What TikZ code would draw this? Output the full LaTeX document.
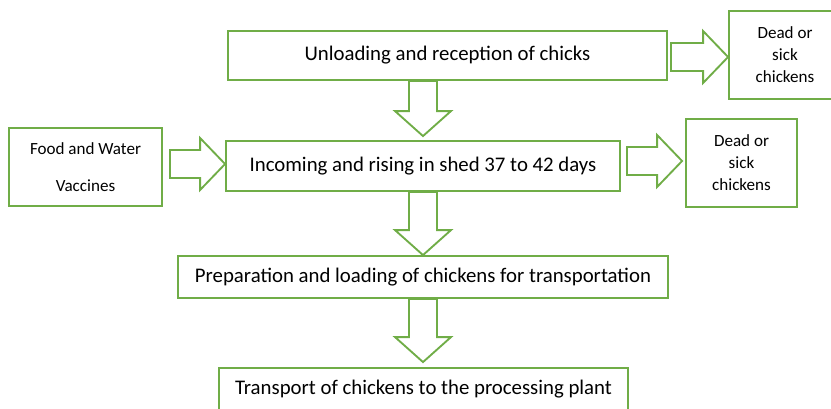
\documentclass[tikz,border=0pt]{standalone}
\usepackage{fontspec}
\setmainfont{Carlito}
\usetikzlibrary{calc}
\definecolor{grn}{RGB}{112,173,71}
\begin{document}
\begin{tikzpicture}[x=0.75pt,y=-0.75pt,line width=1.4pt,
	box/.style={draw=grn,rectangle,inner sep=0pt,align=center,font=\fontsize{15.6}{18}\selectfont},
	sbox/.style={draw=grn,rectangle,inner sep=0pt,align=center,font=\fontsize{12.8}{16.5}\selectfont},
	harrow/.style={draw=grn,fill=white,to path={let \p1=(\tikztostart),\p2=(\tikztotarget) in
		(\x1,\y1+10.5pt)--(\x2-18.75pt,\y1+10.5pt)--(\x2-18.75pt,\y1+19.5pt)--(\x2,\y1)--(\x2-18.75pt,\y1-19.5pt)--(\x2-18.75pt,\y1-10.5pt)--(\x1,\y1-10.5pt)--cycle}},
	varrow/.style={draw=grn,fill=white,to path={let \p1=(\tikztostart),\p2=(\tikztotarget) in
		(\x1-10.5pt,\y1)--(\x1-10.5pt,\y2+18.75pt)--(\x1-21pt,\y2+18.75pt)--(\x1,\y2)--(\x1+21pt,\y2+18.75pt)--(\x1+10.5pt,\y2+18.75pt)--(\x1+10.5pt,\y1)--cycle}}]
	\clip (0,0) rectangle (831,408);
	% boxes
	\node[box,minimum width=329.25pt,minimum height=36.75pt] (unload) at (447.5,55.5) {Unloading and reception of chicks};
	\node[sbox,minimum width=84pt,minimum height=66pt] (dead1) at (785,55) {Dead or\\sick\\chickens};
	\node[box,minimum width=295.5pt,minimum height=37.5pt] (rising) at (423,166) {Incoming and rising in shed 37 to 42 days};
	\node[sbox,minimum width=114.75pt,minimum height=58.5pt] (food) at (85.5,167) {Food and Water\\[11pt]Vaccines};
	\node[sbox,minimum width=83.25pt,minimum height=66pt] (dead2) at (741.5,163) {Dead or\\sick\\chickens};
	\node[box,minimum width=367.5pt,minimum height=31.5pt] (loading) at (423,277) {Preparation and loading of chickens for transportation};
	\node[box,minimum width=306.75pt,minimum height=31.5pt] (transport) at (423.5,389) {Transport of chickens to the processing plant};
	% block arrows
	\draw[harrow] ($(unload.east)+(3,1.5)$) to (dead1.west);
	\draw[harrow] ($(food.east)+(7,-3)$) to (rising.west);
	\draw[harrow] ($(rising.east)+(6,-5)$) to ($(dead2.west)+(-3,0)$);
	\draw[varrow] (unload.south -| rising.north) to ($(rising.north)+(0,-4)$);
	\draw[varrow] (rising.south) to (loading.north);
	\draw[varrow] (loading.south) to ($(transport.north)+(0,-5)$);
\end{tikzpicture}
\end{document}
